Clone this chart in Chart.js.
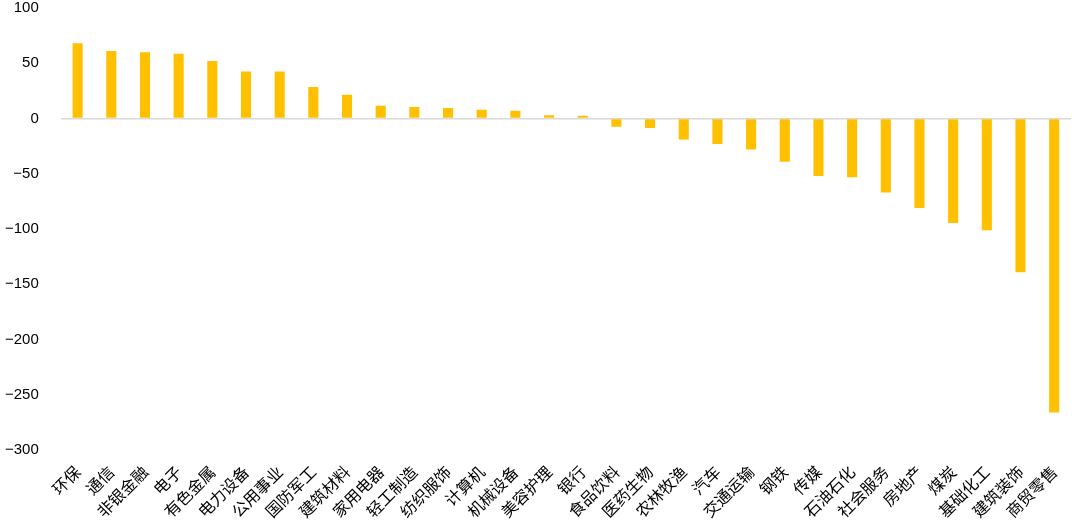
<!DOCTYPE html>
<html>
<head>
<meta charset="utf-8">
<script src="https://cdn.jsdelivr.net/npm/chart.js@4/dist/chart.umd.min.js"></script>
<style>
html,body{margin:0;padding:0;background:#fff;}
#wrap{width:1080px;height:520px;position:relative;}
</style>
</head>
<body>
<div id="wrap"><canvas id="c"></canvas></div>
<script>
const categories = ["环保","通信","非银金融","电子","有色金属","电力设备","公用事业","国防军工","建筑材料","家用电器","轻工制造","纺织服饰","计算机","机械设备","美容护理","银行","食品饮料","医药生物","农林牧渔","汽车","交通运输","钢铁","传媒","石油石化","社会服务","房地产","煤炭","基础化工","建筑装饰","商贸零售"];
const values = [68,61,60,58.5,52,42.5,42.5,28.5,21.5,11.5,10.5,9.5,8,7,3,2.5,-7.5,-8.5,-19,-23,-28,-39,-52,-53,-67,-81,-94.5,-101,-139,-266];
const yMin = -300, yMax = 100, yStep = 50;

new Chart(document.getElementById('c'), {
  type: 'bar',
  data: {
    labels: categories,
    datasets: [{
      data: values,
      backgroundColor: '#FFC000',
      borderWidth: 0,
      barPercentage: 0.6,
      categoryPercentage: 0.5
    }]
  },
  options: {
    responsive: true,
    maintainAspectRatio: false,
    animation: false,
    layout: { padding: { top: 0, right: 9, left: -17, bottom: 0 } },
    plugins: { legend: { display: false }, tooltip: { enabled: false } },
    scales: {
      x: {
        grid: { display: false },
        border: { display: false },
        afterFit: (s) => { s.paddingLeft = 0; s.height = s.height - 5; },
        ticks: {
          minRotation: 45, maxRotation: 45, autoSkip: false,
          color: '#000',
          font: { family: '"Noto Sans CJK SC"', size: 16 },
          padding: 4
        }
      },
      y: {
        min: yMin, max: yMax,
        border: { display: false },
        afterFit: (s) => { s.paddingTop = 8; s.paddingBottom = 0; },
        grid: {
          drawTicks: false,
          color: (ctx) => (ctx.tick && ctx.tick.value === 0) ? '#d9d9d9' : 'rgba(0,0,0,0)',
          lineWidth: 1.5
        },
        ticks: {
          stepSize: yStep,
          color: '#000',
          padding: 22,
          font: { family: '"Liberation Sans", Arial', size: 15 },
          callback: (v) => v < 0 ? '\u2212' + Math.abs(v) : String(v)
        }
      }
    }
  }
});
</script>
</body>
</html>
